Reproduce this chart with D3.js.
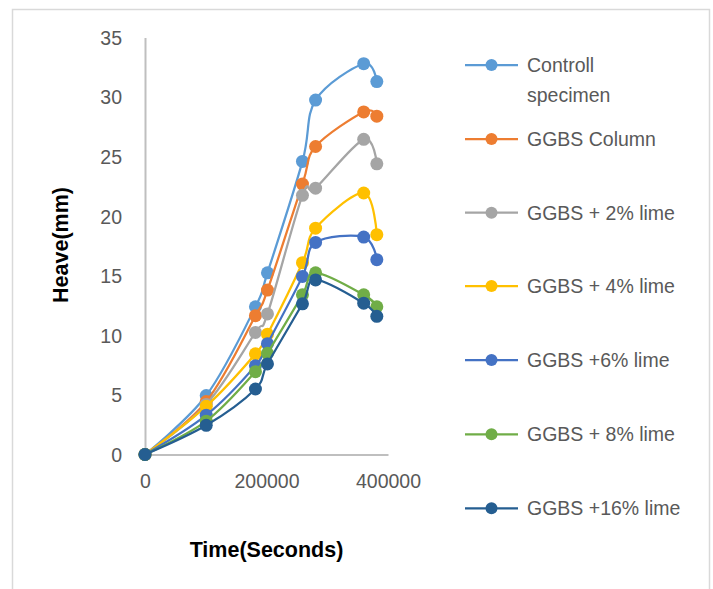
<!DOCTYPE html>
<html>
<head>
<meta charset="utf-8">
<script src="https://cdn.jsdelivr.net/npm/d3@7/dist/d3.min.js"></script>
<style>
  html, body { margin: 0; padding: 0; background: #fff; }
  svg { display: block; font-family: "Liberation Sans", Arial, sans-serif; }
</style>
</head>
<body>
<svg id="chart" width="713" height="589"></svg>
<script>
// Elapsed time of each reading (seconds)
const time = [0, 100800, 181800, 201600, 259200, 280800, 360000, 381600];

// Heave readings (mm) per specimen
const controlSpecimen = [0, 4.95, 12.4, 15.25, 24.6, 29.75, 32.8, 31.3];
const ggbsColumn      = [0, 4.45, 11.65, 13.8, 22.7, 25.85, 28.75, 28.4];
const ggbsLime2       = [0, 4.2, 10.25, 11.8, 21.75, 22.35, 26.45, 24.4];
const ggbsLime4       = [0, 4.05, 8.45, 10.1, 16.1, 19.0, 21.95, 18.45];
const ggbsLime6       = [0, 3.3, 7.45, 9.3, 14.95, 17.8, 18.25, 16.35];
const ggbsLime8       = [0, 2.8, 6.95, 8.5, 13.4, 15.25, 13.4, 12.4];
const ggbsLime16      = [0, 2.45, 5.5, 7.6, 12.65, 14.65, 12.7, 11.6];

const seriesNames = [
  ["Controll", "specimen"],
  ["GGBS Column"],
  ["GGBS + 2% lime"],
  ["GGBS + 4% lime"],
  ["GGBS +6% lime"],
  ["GGBS + 8% lime"],
  ["GGBS +16% lime"]
];
const seriesValues = [controlSpecimen, ggbsColumn, ggbsLime2, ggbsLime4, ggbsLime6, ggbsLime8, ggbsLime16];
const seriesColors = ["#5B9BD5", "#ED7D31", "#A5A5A5", "#FFC000", "#4472C4", "#70AD47", "#255E91"];

const xTicks = [0, 200000, 400000];
const yTicks = [0, 5, 10, 15, 20, 25, 30, 35];

const svg = d3.select("#chart");

// chart area frame
svg.append("rect")
  .attr("x", 12.5).attr("y", 9.5)
  .attr("width", 697).attr("height", 620)
  .attr("fill", "none").attr("stroke", "#d9d9d9").attr("stroke-width", 1.5);

const x = d3.scaleLinear().domain([0, 400000]).range([145, 388]);
const y = d3.scaleLinear().domain([0, 35]).range([454.5, 37.5]);

// axes (no tick marks, grey axis lines)
const yAxis = svg.append("g")
  .attr("transform", `translate(${x(0)},0)`)
  .call(d3.axisLeft(y).tickValues(yTicks).tickSize(0).tickPadding(23));
const xAxis = svg.append("g")
  .attr("transform", `translate(0,${y(0)})`)
  .call(d3.axisBottom(x).tickValues(xTicks).tickSize(0).tickPadding(20).tickFormat(d3.format("d")));

[xAxis, yAxis].forEach(g => {
  g.select(".domain").attr("stroke", "#bfbfbf").attr("stroke-width", 2);
  g.selectAll("text")
    .attr("fill", "#595959")
    .style("font-size", "19.5px")
    .style("font-family", "'Liberation Sans', Arial, sans-serif");
});
yAxis.selectAll("text").attr("dy", "0.35em");

// axis titles
svg.append("text")
  .attr("x", 266.5).attr("y", 557)
  .attr("text-anchor", "middle")
  .style("font-size", "21.5px").style("font-weight", "bold")
  .attr("fill", "#000")
  .text("Time(Seconds)");
svg.append("text")
  .attr("transform", "translate(68,245) rotate(-90)")
  .attr("text-anchor", "middle")
  .style("font-size", "21.5px").style("font-weight", "bold")
  .attr("fill", "#000")
  .text("Heave(mm)");

// smoothed lines with markers
const line = d3.line()
  .x((d, i) => x(time[i]))
  .y(d => y(d))
  .curve(d3.curveCardinal.tension(0));

seriesValues.forEach((vals, s) => {
  const g = svg.append("g");
  g.append("path")
    .datum(vals)
    .attr("d", line)
    .attr("fill", "none")
    .attr("stroke", seriesColors[s])
    .attr("stroke-width", 2.25);
  g.selectAll("circle")
    .data(vals)
    .join("circle")
    .attr("cx", (d, i) => x(time[i]))
    .attr("cy", d => y(d))
    .attr("r", 6.5)
    .attr("fill", seriesColors[s]);
});

// legend
const legendRows = [65, 139, 212.7, 286, 360, 434.3, 508.3];
seriesNames.forEach((name, s) => {
  const g = svg.append("g").attr("transform", `translate(0,${legendRows[s]})`);
  g.append("line")
    .attr("x1", 465).attr("x2", 518)
    .attr("stroke", seriesColors[s]).attr("stroke-width", 2.25);
  g.append("circle").attr("cx", 491.5).attr("cy", 0).attr("r", 6).attr("fill", seriesColors[s]);
  const t = g.append("text")
    .attr("x", 527).attr("y", 0).attr("dy", "0.35em")
    .attr("fill", "#595959")
    .style("font-size", "19.5px");
  name.forEach((part, k) => {
    t.append("tspan").attr("x", 527).attr("dy", k === 0 ? "0.35em" : "1.55em").text(part);
  });
});
</script>
</body>
</html>
